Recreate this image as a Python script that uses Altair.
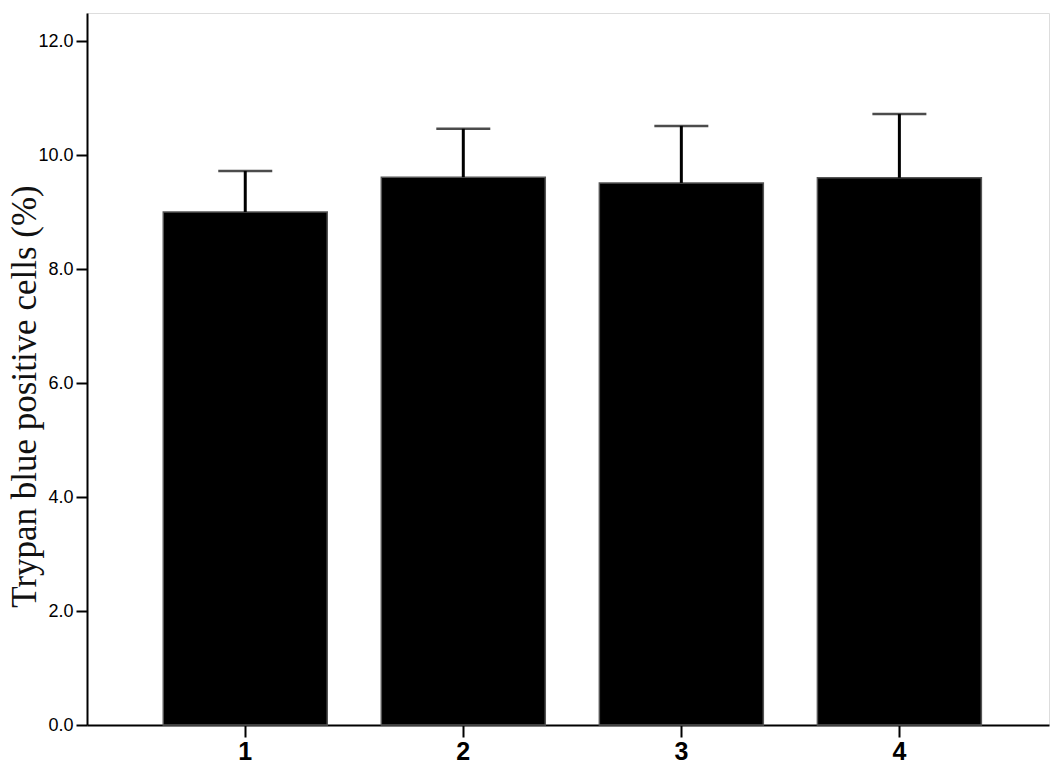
import altair as alt
import pandas as pd

groups = ["1", "2", "3", "4"]
means = [9.0, 9.61, 9.51, 9.60]
upper = [9.72, 10.46, 10.51, 10.72]
y_ticks = [0, 2, 4, 6, 8, 10, 12]

df = pd.DataFrame({"group": groups, "mean": means, "upper": upper})

x_enc = alt.X(
    "group:N",
    sort=groups,
    scale=alt.Scale(paddingInner=0.248, paddingOuter=0.33, align=0.53),
    axis=alt.Axis(
        title=None, labelAngle=0, labelFont="Liberation Sans", labelFontSize=25,
        labelFontWeight="bold", labelColor="black", labelPadding=2,
        tickSize=12, tickWidth=2, tickColor="black",
        domainColor="black", domainWidth=2,
    ),
)

y_scale = alt.Scale(domain=[0, 712 / 57], nice=False)

bars = alt.Chart(df).mark_bar(color="black", stroke="#555555", strokeWidth=1.5).encode(
    x=x_enc,
    y=alt.Y(
        "mean:Q",
        scale=y_scale,
        axis=alt.Axis(
            values=y_ticks, format=".1f", grid=False,
            labelFont="Liberation Sans", labelFontSize=18, labelColor="black",
            labelPadding=3, tickSize=11, tickWidth=2, tickColor="black",
            domainColor="black", domainWidth=2,
            title="Trypan blue positive cells (%)",
            titleFont="Liberation Serif", titleFontSize=35, titleFontWeight="normal",
            titleColor="#111111", titleAngle=270, titleAlign="center",
            titleBaseline="alphabetic", titleX=-52, titleY=383,
        ),
    ),
)

whisker = alt.Chart(df).mark_rule(color="black", strokeWidth=3).encode(
    x=alt.X("group:N", sort=groups),
    y=alt.Y("mean:Q", scale=y_scale),
    y2="upper:Q",
)

cap = alt.Chart(df).mark_tick(color="black", size=54, thickness=2.5).encode(
    x=alt.X("group:N", sort=groups),
    y=alt.Y("upper:Q", scale=y_scale),
)

chart = (
    alt.layer(bars, whisker, cap)
    .properties(
        width=962, height=712,
        autosize=alt.AutoSizeParams(type="none"),
        padding={"left": 79, "top": 5, "right": 5, "bottom": 40},
    )
    .configure_view(stroke=None)
    .configure(background="white")
)

chart.save("out.html", embed_options={"renderer": "svg", "actions": False})
